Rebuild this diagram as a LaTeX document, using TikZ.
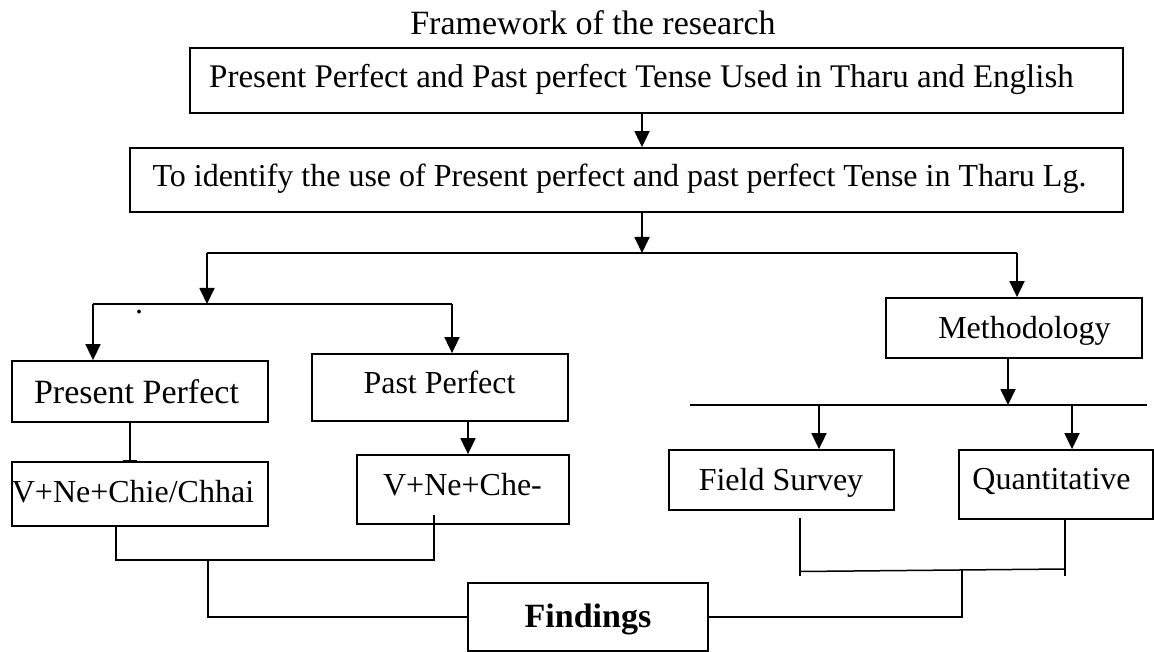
\documentclass[tikz,border=0pt]{standalone}
\usepackage{fontspec}
\setmainfont{Liberation Serif}
\usetikzlibrary{arrows.meta}
\begin{document}
\begin{tikzpicture}[x=1pt,y=-1pt,
  frame/.style={draw, line width=1.8pt, inner sep=0pt},
  txt/.style={anchor=base, inner sep=0pt, font=\fontsize{32}{38}\selectfont},
  bigtxt/.style={txt, font=\fontsize{34}{40}\selectfont},
  arr/.style={line width=1.8pt, -{Triangle[width=15pt,length=16pt]}},
  bar/.style={line width=1.8pt, -{Bar[width=14pt,line width=1.5pt]}},
  rail/.style={line width=1.8pt},
  link/.style={line width=1.5pt},
]
\useasboundingbox (0,0) rectangle (1154,652);

% boxes
\node[frame, minimum width=933pt, minimum height=65pt] (b1)   at (656.5,80.5) {};
\node[frame, minimum width=993pt, minimum height=64pt] (b2)   at (626.5,180) {};
\node[frame, minimum width=256pt, minimum height=61pt] (pp)   at (140,391.5) {};
\node[frame, minimum width=256pt, minimum height=64pt] (v1)   at (140,494) {};
\node[frame, minimum width=256pt, minimum height=67pt] (past) at (440,387.5) {};
\node[frame, minimum width=212pt, minimum height=69pt] (v2)   at (463,489.5) {};
\node[frame, minimum width=256pt, minimum height=60pt] (meth) at (1014,328) {};
\node[frame, minimum width=225pt, minimum height=60pt] (fs)   at (781.5,480) {};
\node[frame, minimum width=194pt, minimum height=69pt] (qt)   at (1056,484.5) {};
\node[frame, minimum width=240pt, minimum height=68pt] (find) at (588,617) {};

% texts
\node[bigtxt] (title) at (593,35) {Framework of the research};
\node[txt, font=\fontsize{33}{38}\selectfont] (t1) at (641.5,88) {Present Perfect and Past perfect Tense Used in Tharu and English};
\node[txt] (t2) at (619.5,187) {To identify the use of Present perfect and past perfect Tense in Tharu Lg.};
\node[bigtxt] (tpp) at (136.5,403) {Present Perfect};
\node[txt] (tv1) at (133,502) {V+Ne+Chie/Chhai};
\node[txt] (tpast) at (439.5,393) {Past Perfect};
\node[txt] (tv2) at (462.5,495) {V+Ne+Che-};
\node[txt] (tmeth) at (1024.5,338) {Methodology};
\node[txt] (tfs) at (781,490) {Field Survey};
\node[txt] (tqt) at (1051.5,489) {Quantitative};
\node[bigtxt, font=\fontsize{34}{40}\selectfont\bfseries] (tfind) at (588,627) {Findings};
\node[txt] (dot) at (139,314) {.};

% junction points
\coordinate (j1) at (642,253);
\coordinate (L1) at (207,253);
\coordinate (R1) at (1017,253);
\coordinate (j2) at (207,304);
\coordinate (L2) at (93,304);
\coordinate (R2) at (452,304);
\coordinate (ppx) at (130,0);
\coordinate (pastx) at (468,0);
\coordinate (mx) at (1008,405);
\coordinate (L3) at (690,405);
\coordinate (R3) at (1147,405);
\coordinate (fsx) at (819,405);
\coordinate (qtx) at (1072,405);

% top chain
\draw[arr] (b1.south -| j1) -- (b2.north -| j1);
\draw[arr] (b2.south -| j1) -- (j1);
\draw[rail] (L1) -- (R1);
\draw[arr] (L1) -- (j2);
\draw[arr] (R1) -- (R1 |- meth.north);

% tense branches
\draw[rail] (L2) -- (R2);
\draw[arr] (L2) -- (L2 |- pp.north);
\draw[arr] (R2) -- (R2 |- past.north);
\draw[bar] (pp.south -| ppx) -- (v1.north -| ppx);
\draw[arr] (past.south -| pastx) -- (v2.north -| pastx);

% methodology branches
\draw[arr] (meth.south -| mx) -- (mx);
\draw[rail] (L3) -- (R3);
\draw[arr] (fsx) -- (fsx |- fs.north);
\draw[arr] (qtx) -- (qtx |- qt.north);

% left bracket to findings
\coordinate (k1) at (116,560);
\coordinate (k2) at (434,560);
\coordinate (k3) at (434,515);
\coordinate (k4) at (208,560);
\draw[link] (v1.south -| k1) -- (k1) -- (k2) -- (k3);
\draw[link] (k4) |- (find.west);

% right bracket to findings
\coordinate (m1) at (800,518);
\coordinate (m2) at (800,576);
\coordinate (m3) at (1065,576);
\coordinate (m4) at (800,571.5);
\coordinate (m5) at (1065,569);
\coordinate (m6) at (962,570);
\draw[link] (m1) -- (m2);
\draw[link] (qt.south -| m3) -- (m3);
\draw[link] (m4) -- (m5);
\draw[link] (m6) |- (find.east);
\end{tikzpicture}
\end{document}
